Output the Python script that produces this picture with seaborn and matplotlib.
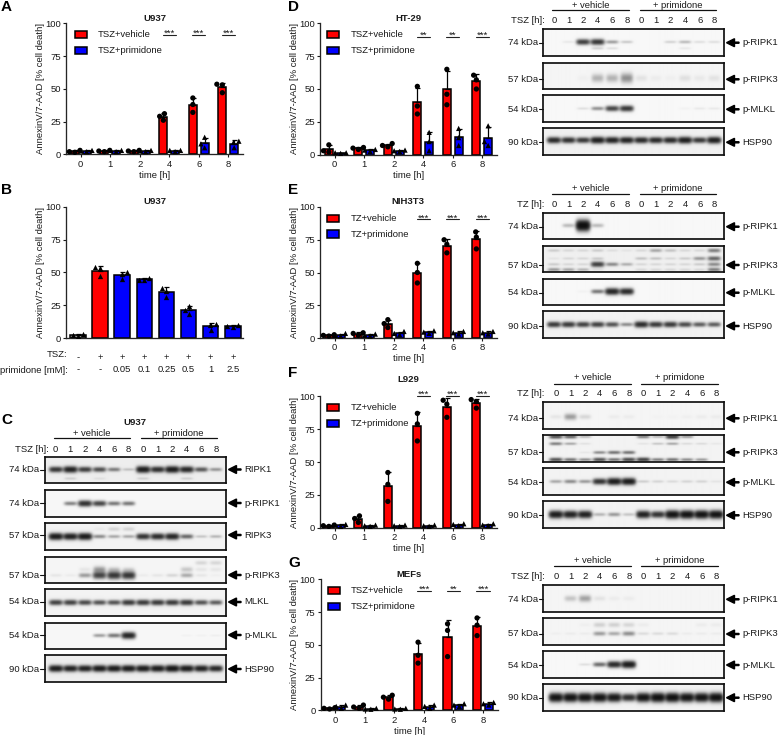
#!/usr/bin/python3

import warnings
from matplotlib import pyplot as plt
from matplotlib.patches import Rectangle
import numpy as np
import pandas as pd
import seaborn as sns

warnings.filterwarnings('ignore')

W, H = 778, 735
RED, BLUE, GREY = '#ff0000', '#0000ff', '#9a9a9a'

# --- bar chart data, three replicates per time point ---
times = ['0', '1', '2', '4', '6', '8']

a_vehicle = [[1.5, 2, 3], [2, 2.5, 3], [2, 2.5, 3], [26, 29, 31], [32, 38, 43], [47, 53.5, 53]]
a_primidone = [[2, 2.5, 3], [2, 3, 3], [2, 2.5, 3], [2, 3, 3], [5, 8, 13], [5, 9, 10]]
d_vehicle = [[2, 3, 7.5], [4, 5, 5.5], [6, 7, 8.5], [31, 37, 52], [38, 46, 65], [50, 57, 60.5]]
d_primidone = [[1, 1.5, 1.5], [2.5, 3.5, 4], [2.5, 3, 3.5], [3, 10, 17], [7, 13, 20], [7, 10, 22]]
e_vehicle = [[1.5, 2, 2.5], [2, 3.5, 4], [8, 11, 14], [42, 50, 57], [65, 71.5, 75], [68, 77, 81]]
e_primidone = [[1.5, 2, 3.5], [1.5, 2, 3], [2.5, 3.5, 5], [3.5, 4.5, 5.5], [3, 4, 5], [3, 4, 5]]
f_vehicle = [[1, 1.5, 2], [4, 7, 9], [20, 33, 42], [66, 79, 87], [84, 94, 97], [91, 96, 97.5]]
f_primidone = [[1, 2, 2.5], [1, 1.5, 2], [1, 1.5, 2], [1, 1.5, 2], [1.5, 2.5, 3], [1.5, 2, 3]]
g_vehicle = [[1, 1.5, 2], [1.5, 2.5, 4], [8.5, 10, 11.5], [36, 42, 52], [41, 61, 66], [57, 65, 70.5]]
g_primidone = [[1.5, 3, 4], [0.8, 1, 1.5], [0.8, 1, 1.5], [1.5, 3, 4], [3, 4, 5], [4, 5, 6]]

b_tsz = ['-', '+', '+', '+', '+', '+', '+', '+']
b_primidone = ['-', '-', '0.05', '0.1', '0.25', '0.5', '1', '2.5']
b_values = [[1.5, 2.5, 3], [47, 53, 54], [45, 49, 50], [44, 44.5, 46],
            [31, 36, 38], [18, 21, 24], [6, 10, 10.5], [8, 9, 10]]

# --- blot data: (label, kDa, [(band height in box, lane intensities, smear), ...], background) ---
c_blots = [
    ('RIPK1', '74 kDa', [(.5, [.75, .9, .7, .6, .4, .15, .95, .8, .95, .85, .55, .3], 1),
                         (.84, [0, .1, 0, .05, 0, 0, .1, 0, 0, .1, 0, 0], 1)], .93),
    ('p-RIPK1', '74 kDa', [(.5, [0, .4, .85, .7, .45, .45, 0, 0, 0, 0, 0, 0], 1)], .97),
    ('RIPK3', '57 kDa', [(.5, [1, .95, 1, .35, .25, .25, .8, .85, .9, .5, .15, .2], 1),
                         (.22, [0, 0, 0, .03, .1, .1, 0, 0, 0, 0, 0, 0], 1.5)], .95),
    ('p-RIPK3', '57 kDa', [(.72, [.05, .03, .3, .7, .8, .8, .03, .05, .1, .25, .05, .02], 1.3),
                           (.5, [0, 0, .05, .3, .15, .1, 0, 0, 0, .15, .05, .05], 1.8),
                           (.25, [0, 0, 0, 0, 0, 0, 0, 0, 0, 0, .1, .1], 1.6)], .96),
    ('MLKL', '54 kDa', [(.5, [.7, .7, .65, .6, .6, .75, .75, .75, .75, .75, .6, .55], 1)], .95),
    ('p-MLKL', '54 kDa', [(.5, [0, 0, 0, .3, .45, .95, 0, 0, 0, .02, .02, .03], 1)], .97),
    ('HSP90', '90 kDa', [(.5, [.95, .9, .9, .95, .95, .95, .95, .95, 1, .95, .9, .85], 1)], .93),
]
d_blots = [
    ('p-RIPK1', '74 kDa', [(.48, [0, .05, .75, .8, .3, .15, 0, 0, .12, .2, .08, .08], 1),
                           (.72, [0, 0, 0, .12, .08, 0, 0, 0, 0, .05, 0, 0], 1)], .97),
    ('p-RIPK3', '57 kDa', [(.6, [0, 0, .02, .22, .22, .35, .06, .03, .02, .07, .04, .06], 2.6)], .96),
    ('p-MLKL', '54 kDa', [(.5, [0, 0, .08, .35, .7, .8, 0, 0, 0, .02, .05, .05], 1)], .97),
    ('HSP90', '90 kDa', [(.45, [.85, .8, .75, .95, .9, .9, .85, .85, .85, .95, .75, .95], 1)], .94),
]
e_blots = [
    ('p-RIPK1', '74 kDa', [(.5, [0, .2, 1.3, .2, 0, 0, 0, 0, 0, 0, 0, 0], 1.3)], .97),
    ('p-RIPK3', '57 kDa', [(.72, [.12, .08, .08, .7, .35, .22, .08, .08, .08, .08, .12, .35], 1),
                           (.92, [.3, .25, .2, .05, 0, 0, .08, .08, .08, .08, .08, .4], 1),
                           (.5, [.04, .08, .08, .12, 0, 0, .15, .15, .08, .12, .3, .5], 1),
                           (.2, [.12, .08, .08, .12, .06, .04, .08, .25, .15, .08, .08, .4], 1)], .94),
    ('p-MLKL', '54 kDa', [(.5, [0, 0, .02, .45, .95, .9, 0, 0, 0, 0, 0, 0], 1)], .97),
    ('HSP90', '90 kDa', [(.5, [.75, .75, .7, .7, .6, .35, .85, .75, .75, .65, .55, .55], 1)], .95),
]
f_blots = [
    ('p-RIPK1', '74 kDa', [(.55, [.05, .3, .1, 0, .03, .03, 0, .01, .01, .02, .03, .03], 1.8)], .96),
    ('p-RIPK3', '57 kDa', [(.06, [.6, .5, .2, 0, 0, 0, .4, .2, .7, .3, 0, 0], .8),
                           (.32, [.4, .25, .06, 0, 0, 0, .05, .15, .25, .08, .08, .04], .8),
                           (.65, [0, 0, .04, .35, .45, .45, 0, 0, 0, 0, 0, 0], .8),
                           (.92, [.6, .45, .35, .6, .45, .65, .7, .4, .45, .35, .3, 0], .8)], .95),
    ('p-MLKL', '54 kDa', [(.5, [.25, .35, .3, .8, 1, 1, .12, .1, .08, .1, .1, .05], 1)], .95),
    ('HSP90', '90 kDa', [(.5, [1, .95, .95, .2, .3, .15, .95, .8, 1.1, 1.1, 1.1, 1.1], 1.1)], .95),
]
g_blots = [
    ('p-RIPK1', '74 kDa', [(.5, [0, .16, .28, .06, .03, .03, 0, 0, 0, 0, 0, 0], 2)], .96),
    ('p-RIPK3', '57 kDa', [(.58, [.02, .03, .03, .3, .25, .35, .08, .08, .08, .03, .03, .03], 1.2),
                           (.25, [0, 0, .02, .12, .12, .1, .03, 0, 0, 0, .03, .03], 1.8)], .96),
    ('p-MLKL', '54 kDa', [(.5, [0, 0, .08, .5, .9, 1.05, 0, 0, 0, 0, 0, 0], 1)], .97),
    ('HSP90', '90 kDa', [(.5, [1.1, 1.1, 1.1, 1.1, 1.05, .85, 1.1, 1.15, 1.15, 1.1, 1.1, 1.15], 1.2)], .95),
]
lane_labels = ['0', '1', '2', '4', '6', '8'] * 2

sns.set_style('ticks')
plt.rcParams['font.family'] = ['Liberation Sans', 'DejaVu Sans']
plt.rcParams['font.size'] = 6.8
plt.rcParams['axes.linewidth'] = 0.95
plt.rcParams['text.color'] = '#1a1a1a'
plt.rcParams['axes.labelcolor'] = '#1a1a1a'
plt.rcParams['xtick.color'] = '#1a1a1a'
plt.rcParams['ytick.color'] = '#1a1a1a'

fig = plt.figure(figsize=(W / 100, H / 100), dpi=100)

# overlay in pixel coordinates for panel letters, blot labels and arrows
over = fig.add_axes([0, 0, 1, 1], zorder=10)
over.set_xlim(0, W)
over.set_ylim(H, 0)
over.axis('off')


def px_axes(left, top, right, bottom):
    return fig.add_axes([left / W, 1 - bottom / H, (right - left) / W, (bottom - top) / H])


def style_axes(ax):
    sns.despine(ax=ax)
    ax.set_ylim(0, 100)
    ax.set_yticks([0, 25, 50, 75, 100])
    ax.tick_params(axis='both', length=2.3, width=0.8, labelsize=6.8, pad=1.5)
    ax.set_ylabel('AnnexinV/7-AAD [% cell death]', fontsize=6.8)
    ax.yaxis.set_label_coords(-0.12, 0.5)


def time_panel(box, title, title_x, title_y, vehicle, primidone, names, sig, sig_y, legend_x):
    left, top, right, bottom = box
    ax = px_axes(left, top, right, bottom)
    rows = []
    for name, values in zip(names, [vehicle, primidone]):
        for t, reps in zip(times, values):
            for v in reps:
                rows.append({'time': t, 'group': name, 'value': v})
    df = pd.DataFrame(rows)

    sns.barplot(data=df, x='time', y='value', hue='group', order=times, hue_order=names,
                palette=[RED, BLUE], errorbar=None, saturation=1, width=0.8, gap=0.3,
                edgecolor='black', linewidth=1.1, legend=False, ax=ax)

    for cont, name in zip(ax.containers, names):
        grouped = df[df['group'] == name].groupby('time', sort=False)['value']
        xs = [b.get_x() + b.get_width() / 2 for b in cont]
        means, sds = grouped.mean().values, grouped.std().values
        ax.errorbar(xs, means, yerr=[np.zeros(len(sds)), sds], fmt='none', ecolor='black',
                    elinewidth=0.9, capsize=1.8, capthick=0.9, zorder=4)

    for name, marker in zip(names, ['o', '^']):
        sns.swarmplot(data=df[df['group'] == name], x='time', y='value', hue='group', order=times,
                      hue_order=names, palette=['black', 'black'], dodge=True, size=3.8, marker=marker,
                      legend=False, zorder=5, clip_on=False, ax=ax)

    style_axes(ax)
    ax.set_xlim(-0.5, 5.5)
    ax.set_xlabel('time [h]', fontsize=6.8, labelpad=1.5)

    for i, s in zip([3, 4, 5], sig):
        ax.plot([i - 0.225, i + 0.225], [sig_y, sig_y], color='#222222', lw=0.8, clip_on=False)
        ax.text(i, sig_y - 0.8, s, ha='center', va='baseline', fontsize=6.8, clip_on=False)

    over.text(title_x, title_y, title, ha='center', va='center', fontsize=6.8, fontweight='bold')
    for dy, name, colour in zip([7.5, 23.3], names, [RED, BLUE]):
        over.add_patch(Rectangle((legend_x, top + dy), 12, 7.3, fc=colour, ec='black', lw=1.1))
        over.text(legend_x + 23, top + dy + 3.8, name, ha='left', va='center', fontsize=6.8)
    return ax


def dose_panel(box):
    left, top, right, bottom = box
    ax = px_axes(left, top, right, bottom)
    rows = []
    for i, reps in enumerate(b_values):
        for v in reps:
            rows.append({'cond': str(i), 'value': v})
    df = pd.DataFrame(rows)
    order = [str(i) for i in range(len(b_values))]
    colours = [GREY, RED] + [BLUE] * 6
    sns.barplot(data=df, x='cond', y='value', hue='cond', order=order, hue_order=order,
                palette=colours, errorbar=None, saturation=1, width=0.7, dodge=False,
                edgecolor='black', linewidth=1.1, legend=False, ax=ax)
    grouped = df.groupby('cond', sort=False)['value']
    means, sds = grouped.mean().values, grouped.std().values
    ax.errorbar(range(len(order)), means, yerr=[np.zeros(len(sds)), sds], fmt='none', ecolor='black',
                elinewidth=0.9, capsize=1.8, capthick=0.9, zorder=4)
    sns.swarmplot(data=df, x='cond', y='value', order=order, color='black', size=3.8, marker='^',
                  legend=False, zorder=5, ax=ax)
    style_axes(ax)
    ax.set_xlim(-0.54, 7.46)
    ax.set_xlabel('')
    ax.set_xticks(range(len(order)))
    ax.set_xticklabels(b_tsz, fontsize=6.8)
    ax.tick_params(axis='x', length=0, pad=11)
    height = bottom - top
    for i, lab in enumerate(b_primidone):
        ax.text(i, -(370 - bottom) / height, lab, ha='center', va='center', fontsize=6.8,
                transform=ax.get_xaxis_transform())
    over.text(155, top - 5.5, 'U937', ha='center', va='center', fontsize=6.8, fontweight='bold')
    over.text(67.5, 354, 'TSZ:', ha='right', va='center', fontsize=6.8)
    over.text(67.5, 370, 'primidone [mM]:', ha='right', va='center', fontsize=6.8)


def blot_image(bands, background, xlim, nx, ny):
    xs = np.linspace(xlim[0], xlim[1], nx)
    ys = np.linspace(0, 1, ny)
    xx, yy = np.meshgrid(xs, ys)
    ink = np.zeros_like(xx)
    for y0, lanes, smear in bands:
        for lane, level in enumerate(lanes):
            if level <= 0:
                continue
            wide = 0.40 + 0.08 * min(level, 1)
            tall = (0.04 + 0.085 * level) * smear
            ink += level * np.exp(-((xx - lane) / wide) ** 4 - ((yy - y0) / tall) ** 2)
    return np.clip(background - 1.0 * np.tanh(ink * 1.2), 0.06, 1)


def blot_panel(blots, box_x, tops, lane0, header_y, line_y, lane_y, lab_y, lines, word, word_right):
    box_l, box_r = box_x
    step = 14.58
    xlim = ((box_l - lane0) / step, (box_r - lane0) / step)
    for blot, top, y_lab in zip(blots, tops, lab_y):
        name, kda, bands, background = blot
        bottom = top + 26.6
        ax = px_axes(box_l, top, box_r, bottom)
        nx = int((box_r - box_l) * 2)
        ny = 54
        img = blot_image(bands, background, xlim, nx, ny)
        ax.imshow(img, cmap='gray', vmin=0, vmax=1, aspect='auto', interpolation='bilinear',
                  extent=(xlim[0], xlim[1], 1, 0))
        ax.set_xticks([])
        ax.set_yticks([])
        for spine in ax.spines.values():
            spine.set_linewidth(1.25)
            spine.set_color('#111111')
        over.plot([box_l - 4.5, box_l], [y_lab, y_lab], color='#111111', lw=0.8)
        over.text(box_l - 5.5, y_lab, kda, ha='right', va='center', fontsize=6.8)
        over.arrow(box_r + 15, y_lab, -12.5, 0, width=1.1, head_width=8, head_length=8,
                   length_includes_head=True, color='black')
        over.text(box_r + 18, y_lab, name, ha='left', va='center', fontsize=6.8)

    for (x0, x1), txt in zip(lines, ['+ vehicle', '+ primidone']):
        over.plot([x0, x1], [line_y, line_y], color='#111111', lw=0.9)
        over.text((x0 + x1) / 2, header_y, txt, ha='center', va='center', fontsize=6.8)
    for i, lab in enumerate(lane_labels):
        over.text(lane0 + step * i, lane_y, lab, ha='center', va='center', fontsize=6.8)
    over.text(word_right, lane_y, word, ha='right', va='center', fontsize=6.8)


# bar panels
names_tsz = ['TSZ+vehicle', 'TSZ+primidone']
names_tz = ['TZ+vehicle', 'TZ+primidone']
time_panel((66, 23.3, 243, 154.3), 'U937', 155, 18, a_vehicle, a_primidone, names_tsz,
           ['***', '***', '***'], 91, 74.7)
dose_panel((66, 206.7, 243, 338))
time_panel((320, 23.3, 497, 154.7), 'HT-29', 408.3, 18, d_vehicle, d_primidone, names_tsz,
           ['**', '**', '***'], 89.8, 327.3)
time_panel((320, 207, 497, 338), 'NIH3T3', 408.3, 201.5, e_vehicle, e_primidone, names_tz,
           ['***', '***', '***'], 90.6, 327.3)
time_panel((320, 396.3, 497, 527.7), 'L929', 408.3, 379.3, f_vehicle, f_primidone, names_tz,
           ['***', '***', '***'], 100.4, 327.3)
time_panel((320.7, 579.3, 497.7, 710.3), 'MEFs', 409, 574.7, g_vehicle, g_primidone, names_tsz,
           ['***', '**', '***'], 91, 328)

# blots
over.text(135, 422, 'U937', ha='center', va='center', fontsize=6.8, fontweight='bold')
blot_panel(c_blots, (45, 226), [456.7, 490, 523.3, 556.7, 589.3, 622.7, 655.3], 55.7, 433, 438, 449,
           [469.5, 503, 535, 575, 602, 635, 669], [(54, 130), (141, 217)], 'TSZ [h]:', 48.5)
blot_panel(d_blots, (543.3, 724), [29.3, 62.7, 95.3, 128.3], 554, 5, 10.3, 20.7,
           [42.7, 79.3, 109.3, 142.3], [(552, 629), (640, 716)], 'TSZ [h]:', 544.5)
blot_panel(e_blots, (543.3, 724), [212.7, 245.7, 278.7, 311.3], 554, 188, 194, 204.3,
           [226.7, 265, 292.7, 326], [(552, 629), (640, 716)], 'TZ [h]:', 544.5)
blot_panel(f_blots, (543.3, 724), [402.3, 435.3, 468.3, 501.3], 556, 377, 383.7, 393.3,
           [418.3, 452.3, 482.3, 515.3], [(554, 630.7), (641.3, 718)], 'TZ [h]:', 544.5)
blot_panel(g_blots, (543.3, 724), [585, 618, 651, 684], 556, 560.3, 566.3, 576.7,
           [599.3, 634, 665, 697.7], [(554, 630.7), (641.3, 718)], 'TSZ [h]:', 544.5)

# panel letters
for letter, x, y in [('A', 1, 6.5), ('B', 1, 190), ('C', 1, 420), ('D', 288, 7),
                     ('E', 288, 190), ('F', 288, 373), ('G', 288, 563)]:
    over.text(x, y, letter, ha='left', va='center', fontsize=11, fontweight='bold', color='black')

fig.savefig('out.png', dpi=100)
